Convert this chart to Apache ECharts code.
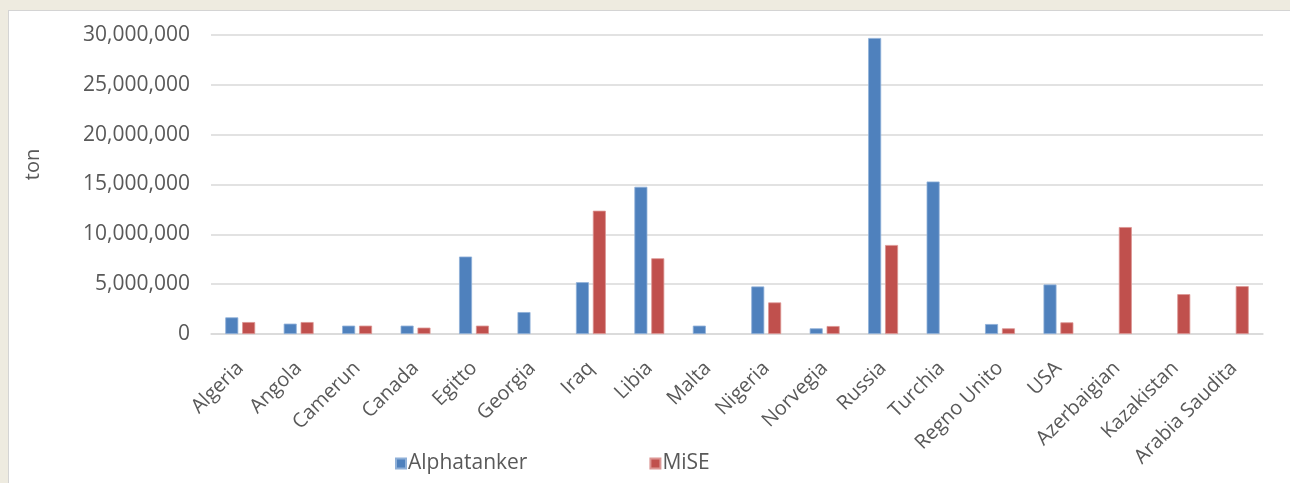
<!DOCTYPE html>
<html>
<head>
<meta charset="utf-8">
<script src="https://cdn.jsdelivr.net/npm/echarts@6/dist/echarts.min.js"></script>
<style>
  html, body { margin: 0; padding: 0; background: #eeebe0; }
  #frame { position: absolute; left: 8px; top: 10px; width: 1282px; height: 473px; background: #fff; border-left: 1px solid #d4d4d4; border-top: 1px solid #d4d4d4; box-sizing: border-box; }
  #chart { position: absolute; left: 0; top: 0; width: 1290px; height: 483px; }
</style>
</head>
<body>
<div id="frame"></div>
<div id="chart"></div>
<script>
const countries = ['Algeria', 'Angola', 'Camerun', 'Canada', 'Egitto', 'Georgia', 'Iraq', 'Libia', 'Malta',
  'Nigeria', 'Norvegia', 'Russia', 'Turchia', 'Regno Unito', 'USA', 'Azerbaigian', 'Kazakistan', 'Arabia Saudita']

// ton
const alphatanker = [1670000, 1040000, 840000, 840000, 7770000, 2200000, 5200000, 14770000, 840000,
  4770000, 570000, 29700000, 15300000, 1000000, 4970000, null, null, null]
const mise = [1200000, 1200000, 840000, 640000, 840000, null, 12370000, 7600000, null,
  3170000, 800000, 8930000, null, 570000, 1170000, 10730000, 4000000, 4800000]

const yTicks = { min: 0, max: 30000000, interval: 5000000 }

const fontFamily = '"Open Sans", "Noto Sans", sans-serif'
const textColor = '#595959'

const chart = echarts.init(document.getElementById('chart'))

const option = {
  backgroundColor: 'transparent',
  animation: false,
  grid: { left: 211, right: 27, top: 35, bottom: 149 },
  legend: {
    left: 390,
    top: 448,
    itemWidth: 10,
    itemHeight: 10,
    itemGap: 122,
    icon: 'rect',
    textStyle: { color: textColor, fontSize: 21, fontFamily: fontFamily, padding: [0, 0, 0, -3] },
    data: ['Alphatanker', 'MiSE']
  },
  xAxis: {
    type: 'category',
    data: countries,
    axisLine: { lineStyle: { color: '#d9d9d9', width: 1.5 } },
    axisTick: { show: false },
    axisLabel: {
      rotate: 45,
      interval: 0,
      margin: 31,
      color: textColor,
      fontSize: 20,
      fontFamily: fontFamily
    }
  },
  yAxis: {
    type: 'value',
    min: yTicks.min,
    max: yTicks.max,
    interval: yTicks.interval,
    name: 'ton',
    nameLocation: 'middle',
    nameRotate: 90,
    nameGap: 168,
    nameTextStyle: { color: textColor, fontSize: 20, fontFamily: fontFamily, padding: [0, 0, 0, 40] },
    axisLine: { show: false },
    axisTick: { show: false },
    splitLine: { lineStyle: { color: '#d9d9d9', width: 1.5 } },
    axisLabel: {
      margin: 21,
      color: textColor,
      fontSize: 21,
      fontFamily: fontFamily,
      formatter: v => v.toLocaleString('en-US')
    }
  },
  series: [
    {
      name: 'Alphatanker',
      type: 'bar',
      data: alphatanker,
      barWidth: 13,
      barGap: '30%',
      itemStyle: { color: '#4f81bd', borderColor: '#8fb0d8', borderWidth: 0.8 }
    },
    {
      name: 'MiSE',
      type: 'bar',
      data: mise,
      barWidth: 13,
      itemStyle: { color: '#c0504d', borderColor: '#dc9593', borderWidth: 0.8 }
    }
  ]
}

chart.setOption(option)
</script>
</body>
</html>
